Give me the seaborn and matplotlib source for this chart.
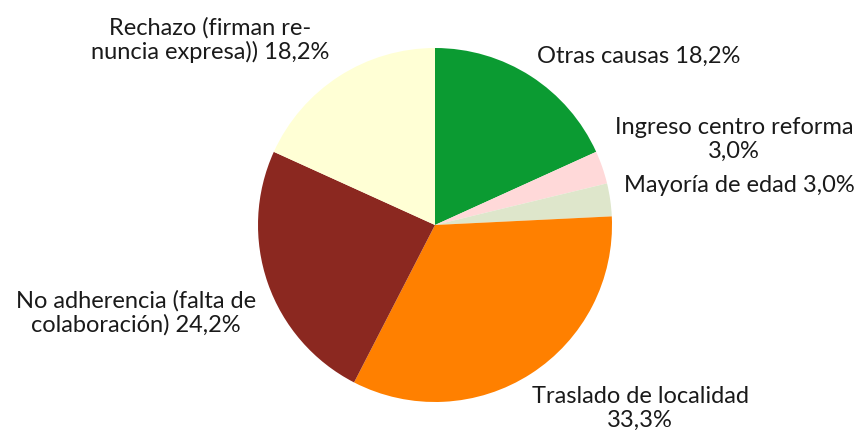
import matplotlib
matplotlib.use("Agg")
import matplotlib.pyplot as plt
import seaborn as sns

sns.set_style("white")
plt.rcParams["font.family"] = ["Lato", "DejaVu Sans"]

# Reasons for case closure, in percent (clockwise from 12 o'clock)
categories = [
    "Otras causas",
    "Ingreso centro reforma",
    "Mayoría de edad",
    "Traslado de localidad",
    "No adherencia (falta de\ncolaboración)",
    "Rechazo (firman re-\nnuncia expresa))",
]
percentages = [18.2, 3.0, 3.0, 33.3, 24.2, 18.2]
colors = ["#0B9B32", "#FFD9D9", "#DEE6CB", "#FF8000", "#8B2820", "#FFFFD5"]

# label text templates ({} is the percentage)
label_templates = [
    "{name} {pct}",
    "{name}\n{pct}",
    "{name} {pct}",
    "{name}\n{pct}",
    "{name} {pct}",
    "{name} {pct}",
]
# label anchor positions in units of the pie radius
label_pos = [
    (1.15, 0.96),
    (1.69, 0.49),
    (1.72, 0.23),
    (1.16, -1.03),
    (-1.69, -0.49),
    (-1.27, 1.05),
]

W, H = 859, 431
fig = plt.figure(figsize=(W / 100, H / 100), dpi=100)
cx, cy, r = 435, 226, 177
ax = fig.add_axes([(cx - r) / W, (H - cy - r) / H, 2 * r / W, 2 * r / H])

ax.pie(
    percentages,
    colors=colors,
    startangle=90,
    counterclock=False,
    radius=1.0,
    wedgeprops=dict(linewidth=0),
)
ax.set_xlim(-1, 1)
ax.set_ylim(-1, 1)
ax.set_aspect("equal")
ax.axis("off")

for name, pct, tmpl, (x, y) in zip(categories, percentages, label_templates, label_pos):
    pct_txt = f"{pct:.1f}".replace(".", ",") + "%"
    ax.text(
        x, y, tmpl.format(name=name, pct=pct_txt),
        ha="center", va="center", fontsize=17, color="#1a1a1a",
        linespacing=1.15, clip_on=False,
    )

fig.savefig("out.png", dpi=100, facecolor="white")
